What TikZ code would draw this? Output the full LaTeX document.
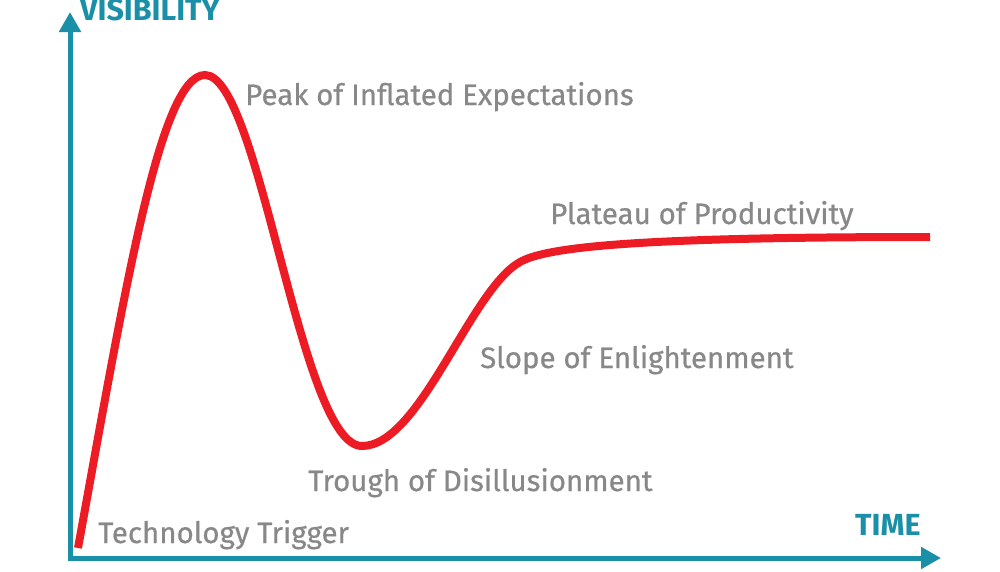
\documentclass[tikz,border=0pt]{standalone}
\usepackage{fontspec}
\setmainfont{Fira Sans}
\newfontfamily\phasefont[FakeBold=0.6]{Fira Sans}
\usetikzlibrary{arrows.meta}
\definecolor{axisteal}{HTML}{1A8FA8}
\definecolor{hypered}{HTML}{ED1C24}
\definecolor{labelgray}{HTML}{878887}
\tikzset{
  axisline/.style={draw=axisteal, line width=5pt, -{Triangle[length=20pt,width=21pt]}},
  axislabel/.style={text=axisteal, font=\bfseries\fontsize{30.5}{30.5}\selectfont, anchor=base west, inner sep=0pt},
  phase/.style={text=labelgray, font=\phasefont\fontsize{29.5}{29.5}\selectfont, anchor=base west, inner sep=0pt},
  hype/.style={draw=hypered, line width=8pt}
}
\begin{document}
\begin{tikzpicture}[x=1pt,y=-1pt]
\useasboundingbox (0,0) rectangle (1000,571);
\coordinate (origin) at (70,558);
\coordinate (xcorner) at (67.5,558);
\coordinate (ytip) at (70,12);
\coordinate (xtip) at (941,558);
\draw[axisline] (origin) -- (ytip);
\draw[axisline] (xcorner) -- (xtip);
\node[axislabel] (vis) at (80,20) {VISIBILITY};
\node[axislabel] (time) at (855,535) {TIME};
\coordinate (start) at (78,548);
\coordinate (peak) at (205,75);
\coordinate (trough) at (362,446);
\coordinate (bend) at (520,262);
\coordinate (end) at (930,237);
\draw[hype] (start) .. controls (125,290) and (160,75) .. (peak)
  .. controls (260,75) and (300,446) .. (trough)
  .. controls (420,446) and (470,290) .. (bend)
  .. controls (545,248) and (625,237) .. (end);
\node[phase] (p1) at (245,105) {Peak of Inflated Expectations};
\node[phase] (p2) at (550,224) {Plateau of Productivity};
\node[phase] (p3) at (480,368) {Slope of Enlightenment};
\node[phase] (p4) at (308,491) {Trough of Disillusionment};
\node[phase] (p5) at (98,543) {Technology Trigger};
\end{tikzpicture}
\end{document}
